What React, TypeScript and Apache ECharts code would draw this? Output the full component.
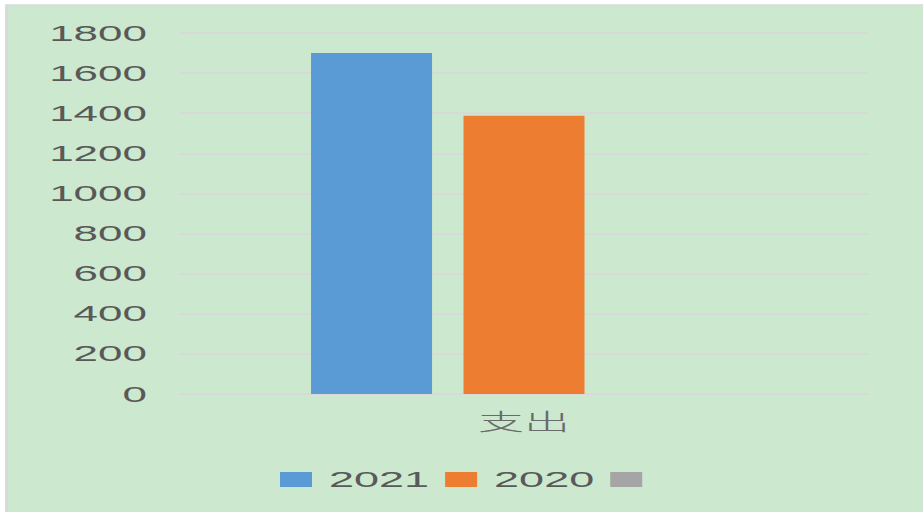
import React, { useEffect, useRef } from "react";
import * as echarts from "echarts";

const categories = ["支出"];
const seriesNames = ["2021", "2020", " "];
const values2021 = [1700];
const values2020 = [1388];
const valuesEmpty: (number | null)[] = [null];
const colors = ["#5b9bd5", "#ed7d31", "#a5a5a5"];
const yTicks = { min: 0, max: 1800, interval: 200 };

const SX = 2;
const W = 923 / SX;
const H = 512;

export default function App() {
  const ref = useRef<HTMLDivElement>(null);
  useEffect(() => {
    if (!ref.current) return;
    const chart = echarts.init(ref.current, undefined, { renderer: "svg", width: W, height: H });
    const font = "Liberation Sans, Arial, sans-serif";
    const data = [values2021, values2020, valuesEmpty];
    chart.setOption({
      animation: false,
      backgroundColor: "#ffffff",
      graphic: [
        {
          type: "rect",
          z: -10,
          silent: true,
          shape: { x: 3.3, y: 5, width: W, height: H },
          style: { fill: "#cce8cf", stroke: "#d9d9d9", lineWidth: 1.5 },
        },
      ],
      grid: { left: 90, right: 27.5, top: 33, bottom: 118, containLabel: false },
      xAxis: {
        type: "category",
        data: categories,
        axisLine: { show: true, lineStyle: { color: "#d9d9d9", width: 2 } },
        axisTick: { show: false },
        axisLabel: { color: "#6a6a6a", fontSize: 23, margin: 14, fontFamily: "Noto Sans CJK SC, sans-serif", fontWeight: 300 },
      },
      yAxis: {
        type: "value",
        min: yTicks.min,
        max: yTicks.max,
        interval: yTicks.interval,
        axisLine: { show: false },
        axisTick: { show: false },
        axisLabel: {
          color: "#595959",
          fontSize: 22,
          margin: 16.5,
          fontFamily: font,
          formatter: (v: number) => String(v),
        },
        splitLine: { lineStyle: { color: "#d9d9d9", width: 2 } },
      },
      legend: {
        left: 140,
        top: 468,
        padding: 0,
        itemWidth: 16,
        itemHeight: 15,
        itemGap: 8,
        icon: "rect",
        data: seriesNames,
        textStyle: { color: "#595959", fontSize: 22.5, fontFamily: font, padding: [0, 0, 0, 3.5] },
      },
      series: seriesNames.map((n, i) => ({
        name: n,
        type: "bar",
        data: data[i],
        barWidth: 60.5,
        barGap: "26%",
        itemStyle: { color: colors[i] },
      })),
    });
    return () => chart.dispose();
  }, []);
  return (
    <div
      style={{
        position: "fixed",
        left: 0,
        top: 0,
        width: 923,
        height: H,
        overflow: "hidden",
        background: "#ffffff",
      }}
    >
      <div
        ref={ref}
        style={{
          width: W,
          height: H,
          transform: `scaleX(${SX})`,
          transformOrigin: "left top",
        }}
      />
    </div>
  );
}
